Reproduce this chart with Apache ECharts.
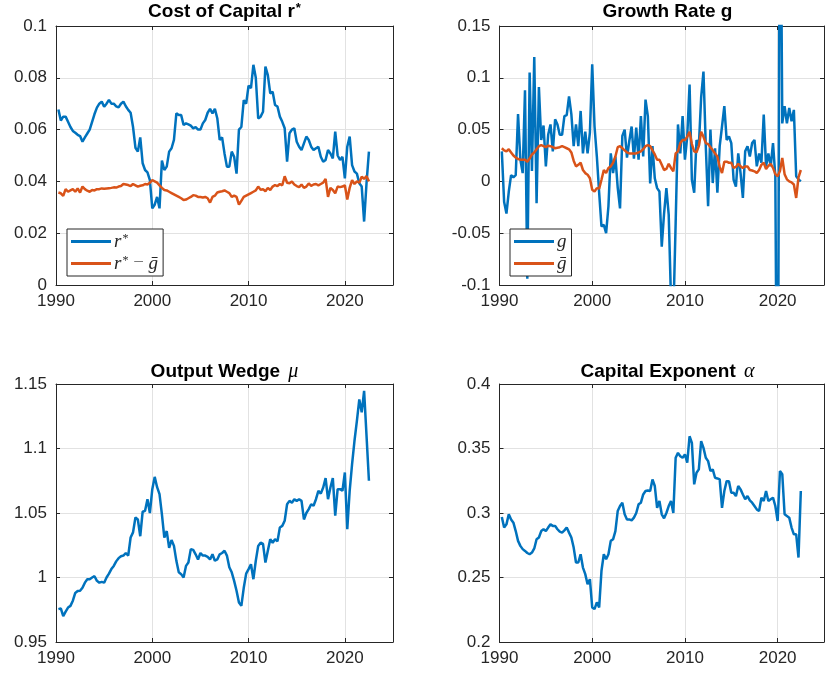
<!DOCTYPE html>
<html><head><meta charset="utf-8">
<script src="https://cdn.jsdelivr.net/npm/echarts@6/dist/echarts.min.js"></script>
<style>html,body{margin:0;padding:0;background:#fff}#c{width:827px;height:674px}</style>
</head><body><div id="c"></div><script>
// ---------------- data (quarterly, first observation 1990Q2) ----------------
const firstQuarter = 1990.25;
const xTicks = [1990, 2000, 2010, 2020];
const xLimits = [1990, 2025];

const rStar = [0.0678,0.0635,0.065,0.065,0.063,0.061,0.0595,0.0588,0.058,0.0575,
 0.0553,0.057,0.0585,0.060,0.063,0.066,0.0685,0.070,0.0708,0.0688,
 0.070,0.0715,0.070,0.070,0.069,0.0686,0.070,0.0708,0.069,0.0676,
 0.0665,0.061,0.053,0.0515,0.057,0.047,0.0444,0.0435,0.0405,0.0296,
 0.031,0.034,0.0296,0.048,0.0444,0.0457,0.0515,0.0528,0.056,0.0663,
 0.0656,0.0656,0.0618,0.0624,0.062,0.0615,0.0605,0.061,0.060,0.060,
 0.0624,0.0637,0.0665,0.068,0.0663,0.068,0.0644,0.056,0.057,0.0508,
 0.0457,0.0457,0.0515,0.0495,0.043,0.060,0.061,0.0714,0.070,0.077,
 0.076,0.085,0.080,0.0643,0.065,0.0669,0.0843,0.081,0.074,0.0746,
 0.0695,0.0689,0.065,0.063,0.0605,0.0476,0.0586,0.060,0.0605,0.0553,
 0.0534,0.0521,0.0547,0.0573,0.056,0.0534,0.0521,0.0528,0.0534,0.0495,
 0.0476,0.0483,0.0521,0.0508,0.0489,0.0592,0.050,0.0483,0.0495,0.0412,
 0.0534,0.0573,0.0463,0.0438,0.043,0.0393,0.038,0.0245,0.0393,0.0515];

const rStarMinusGbar = [0.0357,0.0354,0.0344,0.037,0.036,0.0365,0.037,0.036,0.0373,0.0357,
 0.038,0.037,0.0364,0.036,0.0367,0.0365,0.037,0.037,0.0373,0.0372,
 0.0373,0.0374,0.0375,0.0377,0.0376,0.038,0.0382,0.039,0.0388,0.0386,
 0.0382,0.039,0.0385,0.038,0.0383,0.0385,0.039,0.0388,0.0395,0.0405,
 0.040,0.0395,0.0385,0.0375,0.0367,0.0365,0.036,0.0355,0.035,0.0345,
 0.034,0.0335,0.0328,0.033,0.0335,0.034,0.0347,0.0345,0.034,0.034,
 0.0338,0.034,0.0335,0.0318,0.034,0.0345,0.0357,0.036,0.0362,0.0365,
 0.036,0.0355,0.034,0.0345,0.034,0.031,0.0325,0.034,0.0345,0.035,
 0.0355,0.036,0.0365,0.038,0.0368,0.037,0.0362,0.0375,0.0367,0.038,
 0.0386,0.0382,0.039,0.0385,0.042,0.0395,0.0393,0.040,0.0388,0.0382,
 0.0378,0.0388,0.0375,0.038,0.0392,0.0383,0.0388,0.039,0.0385,0.039,
 0.0395,0.041,0.034,0.0375,0.0367,0.0354,0.038,0.0378,0.038,0.0385,
 0.033,0.0375,0.0405,0.039,0.040,0.0395,0.0418,0.041,0.042,0.040];

const growth = [0.029,-0.02,-0.031,-0.01,0.006,0.004,0.006,0.065,0.021,0.008,
 0.088,-0.094,0.105,0.01,0.12,-0.021,0.091,0.04,0.054,0.0145,
 0.045,0.055,0.029,0.06,0.055,0.045,0.045,0.063,0.064,0.082,
 0.065,0.034,0.055,0.034,0.068,0.027,0.048,0.027,0.047,0.113,
 0.053,0.024,-0.011,-0.0435,-0.042,-0.05,-0.024,0.027,0.008,0.024,
 -0.006,-0.026,0.044,0.05,0.023,0.039,0.053,0.022,0.052,0.021,
 0.063,0.024,0.079,0.063,-0.002,0.034,0.003,-0.0065,-0.0097,-0.063,
 -0.031,-0.0065,-0.032,-0.115,-0.13,-0.04,0.055,0.027,0.063,0.021,
 0.0435,0.0935,0.0016,-0.011,0.04,0.034,0.081,0.106,0.034,-0.024,
 0.05,-0.0016,0.032,-0.011,0.034,0.053,0.0726,0.04,0.0435,0.037,
 0.0016,-0.005,0.027,0.008,-0.016,0.029,0.034,0.024,0.037,0.04,
 0.0145,0.027,0.018,0.0645,0.0145,0.027,0.0145,0.037,0.005,-0.35,
 0.38,0.056,0.0726,0.056,0.071,0.058,0.069,0.005,0.002,0.0];

const growthBar = [0.032,0.03,0.029,0.031,0.028,0.025,0.023,0.0216,0.021,0.021,
 0.021,0.019,0.022,0.026,0.028,0.031,0.034,0.035,0.034,0.033,
 0.0345,0.034,0.033,0.032,0.0325,0.033,0.034,0.033,0.032,0.031,
 0.028,0.02,0.0145,0.016,0.018,0.011,0.008,0.0065,0.003,-0.008,
 -0.0097,-0.0065,-0.007,0.0016,0.011,0.008,0.013,0.0145,0.018,0.024,
 0.033,0.034,0.032,0.03,0.028,0.027,0.027,0.027,0.027,0.028,
 0.029,0.031,0.034,0.035,0.034,0.03,0.026,0.021,0.021,0.016,
 0.011,0.012,0.017,0.013,0.0097,0.027,0.029,0.037,0.04,0.04,
 0.043,0.048,0.036,0.029,0.028,0.034,0.048,0.043,0.037,0.036,
 0.033,0.03,0.027,0.024,0.014,0.008,0.019,0.019,0.018,0.018,
 0.013,0.014,0.017,0.0145,0.013,0.0145,0.0145,0.011,0.0105,0.0097,
 0.008,0.011,0.016,0.018,0.012,0.015,0.017,0.013,0.007,0.005,
 0.01,0.0226,0.007,0.002,0.0,-0.001,-0.003,-0.016,0.004,0.011];

const outputWedge = [0.9755,0.976,0.970,0.9736,0.9767,0.978,0.982,0.988,0.9895,0.9897,
 0.992,0.996,0.9987,0.9987,1.0,1.001,0.9974,0.996,0.9966,0.996,
 1.0,1.003,1.0065,1.009,1.0125,1.015,1.0165,1.017,1.019,1.017,
 1.031,1.035,1.0465,1.045,1.032,1.051,1.0517,1.0607,1.050,1.0685,
 1.078,1.070,1.0646,1.049,1.031,1.036,1.023,1.029,1.0245,1.0129,
 1.004,1.0026,1.0,1.009,1.0116,1.022,1.0214,1.018,1.014,1.019,
 1.017,1.017,1.016,1.014,1.018,1.013,1.014,1.018,1.019,1.0207,
 1.017,1.008,1.004,0.9974,0.9897,0.9806,0.978,0.992,1.003,1.0065,
 1.0103,0.9987,1.013,1.0245,1.027,1.026,1.0116,1.0207,1.0297,1.027,
 1.0297,1.028,1.0388,1.04,1.044,1.0568,1.0594,1.058,1.0607,1.0594,
 1.0607,1.0594,1.045,1.050,1.053,1.0568,1.0556,1.0607,1.0672,1.065,
 1.0698,1.077,1.0607,1.0698,1.077,1.048,1.0685,1.0685,1.0672,1.0814,
 1.0375,1.0672,1.0879,1.106,1.1214,1.138,1.128,1.1447,1.11,1.075];

const capitalExponent = [0.2969,0.2887,0.2912,0.299,0.295,0.2925,0.286,0.2784,0.2745,0.272,
 0.2706,0.269,0.268,0.2693,0.2725,0.2796,0.281,0.286,0.2874,0.286,
 0.2887,0.2912,0.290,0.290,0.2874,0.2855,0.2848,0.2865,0.2887,0.2848,
 0.281,0.2732,0.2616,0.2616,0.268,0.2577,0.2526,0.2448,0.2487,0.2268,
 0.2255,0.2307,0.2268,0.2552,0.268,0.2642,0.268,0.2784,0.2796,0.286,
 0.3015,0.3054,0.308,0.299,0.295,0.295,0.2943,0.2964,0.300,0.3067,
 0.308,0.3144,0.317,0.3175,0.317,0.326,0.3209,0.304,0.3093,0.299,
 0.2959,0.300,0.3054,0.3093,0.300,0.3428,0.3466,0.344,0.3428,0.3454,
 0.339,0.3595,0.3544,0.3222,0.3312,0.3338,0.3557,0.3505,0.3428,0.3402,
 0.3325,0.3338,0.3273,0.3268,0.326,0.304,0.317,0.3247,0.3247,0.3157,
 0.3157,0.3131,0.3209,0.3183,0.3144,0.3106,0.3131,0.3098,0.308,0.3054,
 0.3028,0.3015,0.3119,0.3093,0.317,0.3093,0.3106,0.3119,0.3054,0.2938,
 0.3325,0.330,0.299,0.2977,0.2964,0.2887,0.2835,0.2835,0.2655,0.317];

const yTicksCost = [0, 0.02, 0.04, 0.06, 0.08, 0.1];
const yTicksGrowth = [-0.1, -0.05, 0, 0.05, 0.1, 0.15];
const yTicksWedge = [0.95, 1, 1.05, 1.1, 1.15];
const yTicksAlpha = [0.2, 0.25, 0.3, 0.35, 0.4];

// ---------------- styling ----------------
const BLUE = '#0072BD', ORANGE = '#D95319', INK = '#262626', GRID = '#e2e2e2';
const SANS = '"Liberation Sans", Arial, Helvetica, sans-serif';
const SERIF = '"Liberation Serif", "DejaVu Serif", serif';
const grids = [
  {left: 56, top: 26, width: 337, height: 259},
  {left: 499.5, top: 26, width: 336, height: 259},
  {left: 56, top: 384, width: 337, height: 258},
  {left: 499.5, top: 384, width: 336, height: 258}
];
const yTickSets = [yTicksCost, yTicksGrowth, yTicksWedge, yTicksAlpha];

const toPairs = vals => vals.map((v, k) => [firstQuarter + k * 0.25, v]);
const fmt = v => String(+(+v).toFixed(4));

const xAxes = [], yAxes = [];
grids.forEach((g, gi) => {
  ['bottom', 'top'].forEach(pos => {
    const main = pos === 'bottom';
    xAxes.push({
      type: 'value', gridIndex: gi, position: pos,
      min: xLimits[0], max: xLimits[1], interval: xTicks[1] - xTicks[0],
      axisLine: {show: true, onZero: false, lineStyle: {color: INK, width: 1}},
      axisTick: {show: true, inside: true, length: 4, lineStyle: {color: INK}},
      axisLabel: main ? {show: true, margin: 8, color: INK, fontSize: 17, fontFamily: SANS,
        formatter: v => xTicks.indexOf(Math.round(v)) >= 0 && Math.abs(v - Math.round(v)) < 1e-6 ? String(Math.round(v)) : ''} : {show: false},
      splitLine: {show: main, lineStyle: {color: GRID, width: 1}}
    });
  });
  const t = yTickSets[gi];
  ['left', 'right'].forEach(pos => {
    const main = pos === 'left';
    yAxes.push({
      type: 'value', gridIndex: gi, position: pos,
      min: t[0], max: t[t.length - 1], interval: +(t[1] - t[0]).toFixed(6),
      axisLine: {show: true, onZero: false, lineStyle: {color: INK, width: 1}},
      axisTick: {show: true, inside: true, length: 4, lineStyle: {color: INK}},
      axisLabel: main ? {show: true, margin: 9, color: INK, fontSize: 17, fontFamily: SANS, formatter: fmt} : {show: false},
      splitLine: {show: main, lineStyle: {color: GRID, width: 1}}
    });
  });
});

function lineSeries(name, vals, gi, color) {
  return {
    name, type: 'line', xAxisIndex: gi * 2, yAxisIndex: gi * 2,
    data: toPairs(vals), showSymbol: false, symbol: 'none', clip: true,
    color, lineStyle: {color, width: 2.5}, itemStyle: {color}, animation: false
  };
}

const titleRich = {
  b: {fontFamily: SANS, fontWeight: 'bold', fontSize: 19, color: '#000'},
  s: {fontFamily: SANS, fontWeight: 'bold', fontSize: 13, color: '#000', verticalAlign: 'top', padding: [0, 0, 6, 1]},
  m: {fontFamily: SERIF, fontStyle: 'italic', fontWeight: 'normal', fontSize: 20, color: '#000', padding: [0, 0, 0, 3]}
};
const titleAt = (text, gi, top) => ({
  text, left: grids[gi].left + grids[gi].width / 2, top, textAlign: 'center', padding: 0,
  textStyle: {fontWeight: 'normal', rich: titleRich}
});

const legendRich = {
  i: {fontFamily: SERIF, fontStyle: 'italic', fontSize: 19, color: INK, lineHeight: 18},
  s: {fontFamily: SERIF, fontSize: 12, color: INK, verticalAlign: 'top', lineHeight: 18, padding: [0, 0, 6, 1]},
  o: {fontFamily: SERIF, fontSize: 19, color: '#777', lineHeight: 18}
};
const legendLabels = {
  'r*': '{i|r}{s|*}',
  'r* - gbar': '{i|r}{s|*}{o| − }{i|ḡ}',
  'g': '{i|g}',
  'gbar': '{i|ḡ}'
};
const legendAt = (left, names) => ({
  left, top: 229, orient: 'vertical', data: names, icon: 'rect',
  itemWidth: 40, itemHeight: 3, itemGap: 3, padding: [3, 5, 3, 4],
  borderColor: INK, borderWidth: 1, backgroundColor: '#fff', borderRadius: 0,
  selectedMode: false,
  formatter: n => legendLabels[n],
  textStyle: {rich: legendRich, padding: [0, 0, 0, -2]}
});

const option = {
  animation: false,
  backgroundColor: '#fff',
  title: [
    titleAt('{b|Cost of Capital r}{s|*}', 0, 2),
    titleAt('{b|Growth Rate g}', 1, 2),
    titleAt('{b|Output Wedge }{m|μ}', 2, 362),
    titleAt('{b|Capital Exponent }{m|α}', 3, 362)
  ],
  legend: [legendAt(67, ['r*', 'r* - gbar']), legendAt(510, ['g', 'gbar'])],
  grid: grids.map(g => Object.assign({containLabel: false}, g)),
  xAxis: xAxes,
  yAxis: yAxes,
  series: [
    lineSeries('r*', rStar, 0, BLUE),
    lineSeries('r* - gbar', rStarMinusGbar, 0, ORANGE),
    lineSeries('g', growth, 1, BLUE),
    lineSeries('gbar', growthBar, 1, ORANGE),
    lineSeries('mu', outputWedge, 2, BLUE),
    lineSeries('alpha', capitalExponent, 3, BLUE)
  ]
};
const chart = echarts.init(document.getElementById('c'), null, {renderer: 'canvas'});
chart.setOption(option);
</script></body></html>
